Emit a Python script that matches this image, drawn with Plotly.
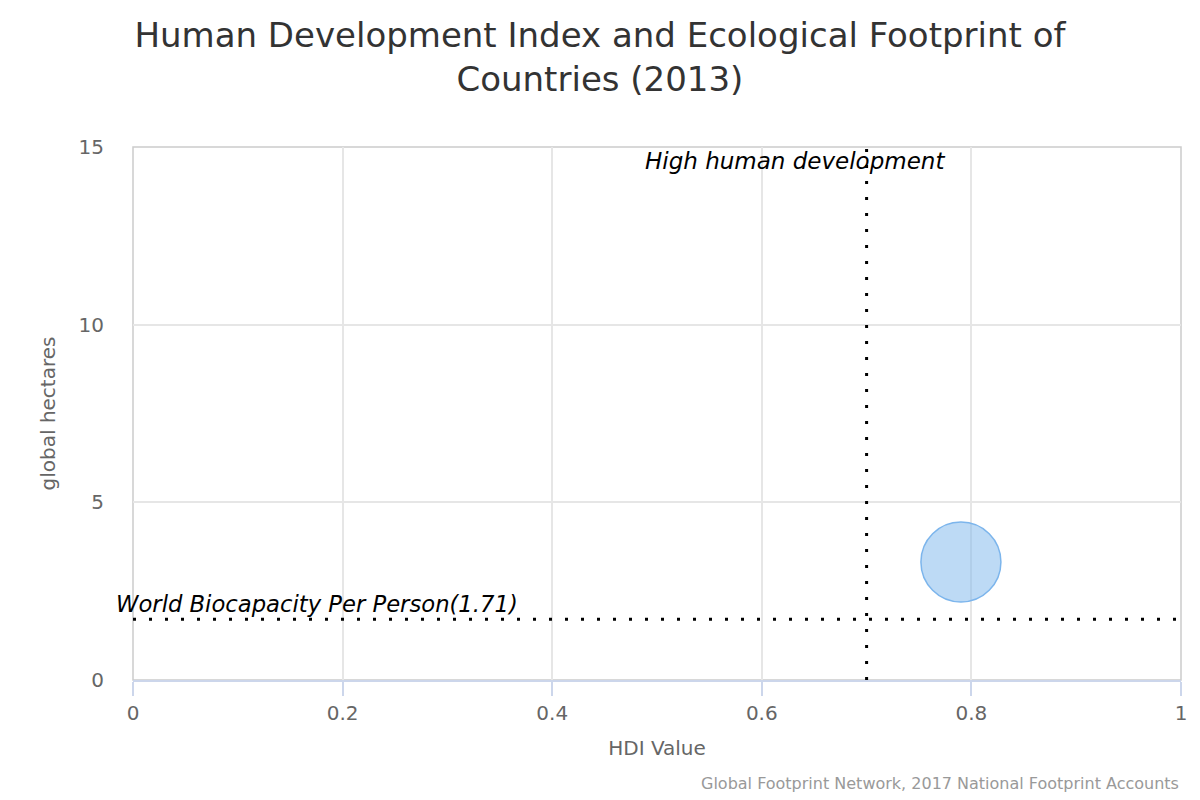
import plotly.graph_objects as go

# data
hdi = [0.79]
footprint = [3.32]
bubble_size = [80]

HDI_THRESHOLD = 0.7
WORLD_BIOCAPACITY = 1.71

x_ticks = [0, 0.2, 0.4, 0.6, 0.8, 1]
x_tick_labels = ["0", "0.2", "0.4", "0.6", "0.8", "1"]
y_ticks = [0, 5, 10, 15]
y_tick_labels = ["0", "5", "10", "15"]

font = "DejaVu Sans"
dots = "3px,13px"

fig = go.Figure()

fig.add_trace(go.Scatter(
    x=hdi,
    y=footprint,
    mode="markers",
    marker=dict(size=bubble_size, sizemode="diameter", opacity=1,
                color="rgba(124,181,236,0.5)",
                line=dict(color="#7cb5ec", width=1.5)),
    hoverinfo="x+y",
    showlegend=False,
))

# reference lines
fig.add_shape(type="line", xref="x", yref="paper", x0=HDI_THRESHOLD, x1=HDI_THRESHOLD,
              y0=0, y1=1, line=dict(color="black", width=3, dash=dots))
fig.add_shape(type="line", xref="paper", yref="y", x0=0, x1=1,
              y0=WORLD_BIOCAPACITY, y1=WORLD_BIOCAPACITY,
              line=dict(color="black", width=3, dash=dots))

# plot border
fig.add_shape(type="rect", xref="paper", yref="paper", x0=0, x1=1, y0=0, y1=1,
              line=dict(color="#cccccc", width=1.5), layer="below")

fig.add_annotation(x=HDI_THRESHOLD, y=15, xref="x", yref="y",
                   text="<i>High human development</i>", showarrow=False,
                   xanchor="right", yanchor="top", xshift=80, yshift=1,
                   font=dict(family=font, size=23, color="black"))
fig.add_annotation(x=0, y=WORLD_BIOCAPACITY, xref="x", yref="y",
                   text="<i>World Biocapacity Per Person(1.71)</i>", showarrow=False,
                   xanchor="left", yanchor="bottom", xshift=-19, yshift=0,
                   font=dict(family=font, size=22.7, color="black"))

fig.add_annotation(x=1, y=0, xref="paper", yref="paper",
                   text="Global Footprint Network, 2017 National Footprint Accounts",
                   showarrow=False, xanchor="right", yanchor="bottom",
                   xshift=0, yshift=-115,
                   font=dict(family=font, size=16, color="#999999"))

fig.update_layout(
    width=1192, height=792,
    paper_bgcolor="white", plot_bgcolor="white",
    margin=dict(l=125, r=19, t=139, b=120),
    title=dict(text="Human Development Index and Ecological Footprint of<br>Countries (2013)",
               x=0.4966, xref="container", y=0.951, yanchor="top",
               font=dict(family=font, size=34, color="#333333")),
    font=dict(family=font, color="#666666"),
    xaxis=dict(
        range=[0, 1], tickvals=x_ticks, ticktext=x_tick_labels,
        showgrid=True, gridcolor="#e6e6e6", gridwidth=1.5,
        showline=True, linecolor="#ccd6eb", linewidth=1.5,
        ticks="outside", ticklen=14, tickcolor="#ccd6eb", tickwidth=1.5,
        tickfont=dict(size=20, color="#666666"),
        title=dict(text="HDI Value", font=dict(size=20, color="#666666"), standoff=17),
        zeroline=False, fixedrange=True,
    ),
    yaxis=dict(
        range=[0, 15], tickvals=y_ticks, ticktext=y_tick_labels,
        showgrid=True, gridcolor="#e6e6e6", gridwidth=1.5,
        showline=False, ticks="", ticklabelstandoff=28,
        tickfont=dict(size=20, color="#666666"),
        title=dict(text="global hectares", font=dict(size=20, color="#666666"), standoff=17),
        zeroline=False, fixedrange=True,
    ),
)

fig.write_html("out.html")
